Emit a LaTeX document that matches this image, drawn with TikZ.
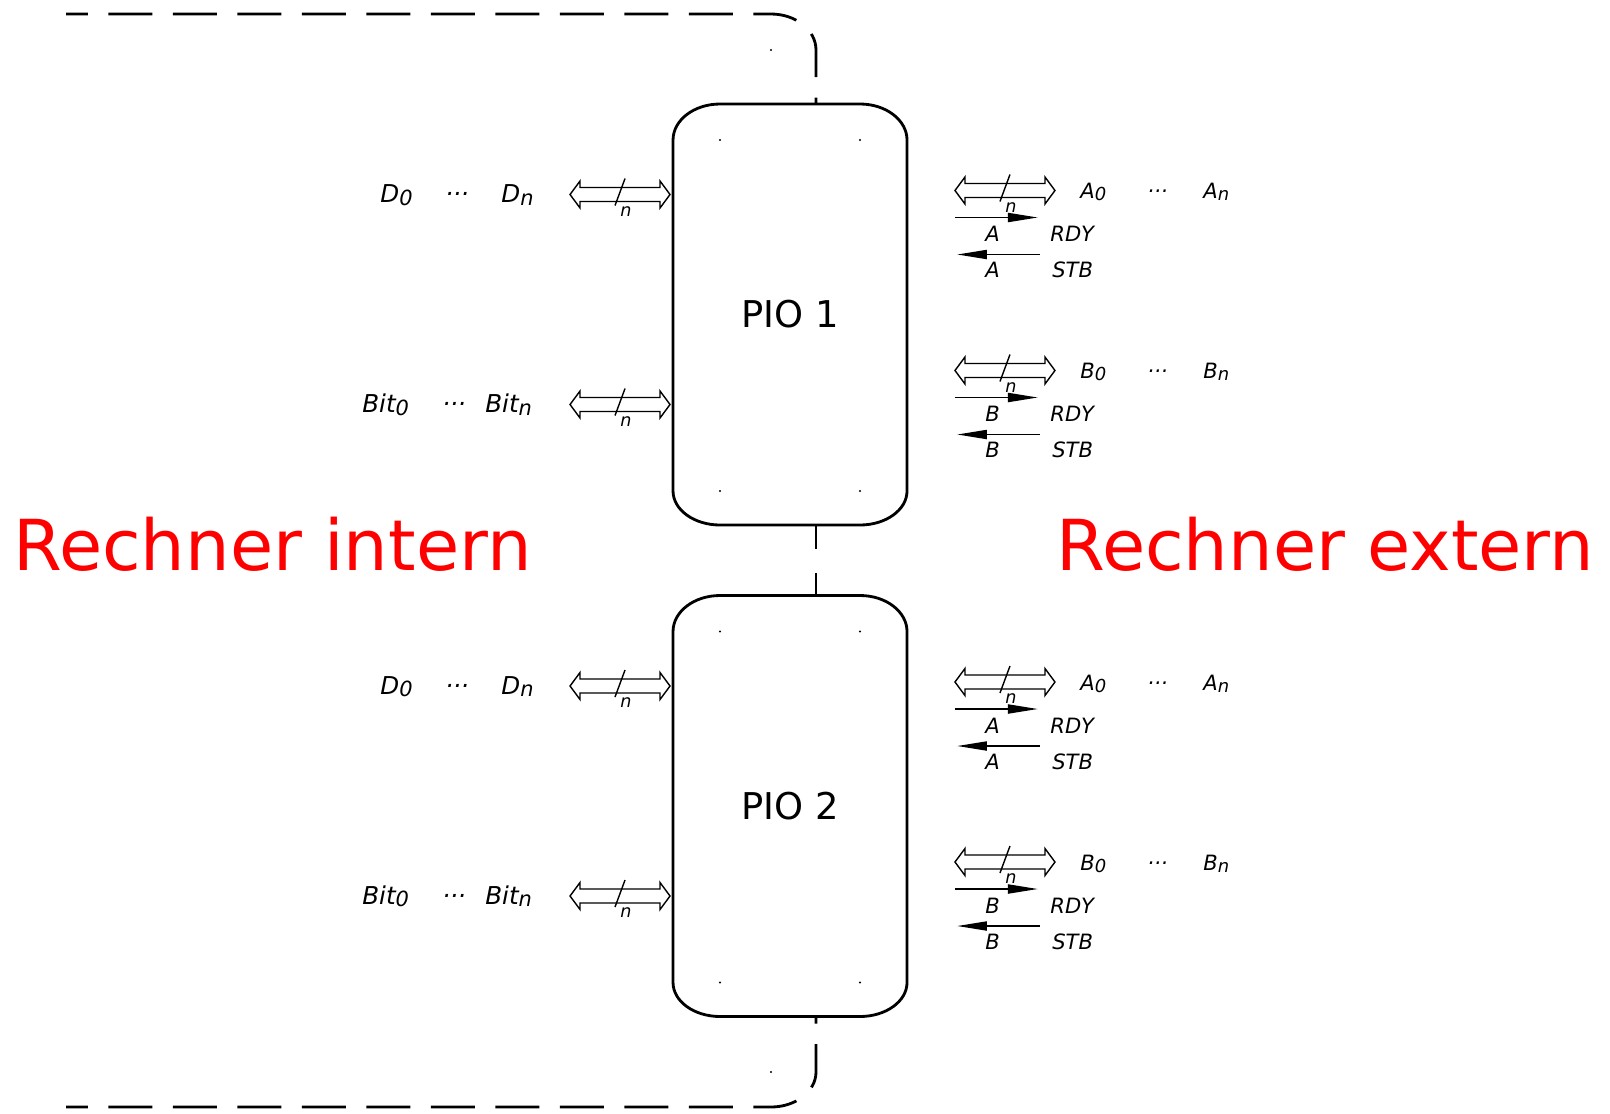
\documentclass[tikz,border=0pt]{standalone}
\usepackage{fontspec}
\setmainfont{DejaVu Sans}
\usepackage{graphicx}
\usetikzlibrary{arrows.meta,calc}

\newcommand{\sub}[1]{\raisebox{-0.2ex}{\scalebox{0.85}{#1}}}

\tikzset{
  frame/.style={line width=1.6pt, dash pattern=on 0.88cm off 0.41cm, dash phase=0.44cm},
  boxline/.style={line width=1.6pt},
  busline/.style={line width=0.8pt},
  sig/.style={line width=1.1pt},
  pio/.style={minimum width=4.68cm, minimum height=8.42cm, inner sep=0pt, outer sep=0pt,
    font=\fontsize{21}{25}\selectfont},
  lbl/.style={inner sep=0pt, anchor=base west, font=\itshape\fontsize{14}{16}\selectfont},
  rlbl/.style={inner sep=0pt, anchor=base west, font=\itshape\fontsize{12}{14}\selectfont},
  big/.style={inner sep=0pt, anchor=base west, text=red, font=\fontsize{40}{48}\selectfont},
  bus/.pic={
    \draw[busline] (0,0) -- (10,-13.5) -- (10,-7) -- (90,-7) -- (90,-13.5) -- (100,0)
      -- (90,13.5) -- (90,7) -- (10,7) -- (10,13.5) -- cycle;
    \draw[busline] (45,11) -- (55,-16);
    \node[inner sep=0pt, font=\itshape\fontsize{10}{12}\selectfont] (-n) at (56,17) {n};
  }
}

\begin{document}
\begin{tikzpicture}[x=0.02cm, y=-0.02cm, >={Triangle[length=0.6cm, width=0.18cm]}]
	\useasboundingbox (0,0) rectangle (1610,1113);
	\node[pio] (pio1) at (790,314.5) {PIO 1};
	\node[pio] (pio2) at (790,806) {PIO 2};
	% outer frame
	\draw[frame] (66,14) -- (771,14) arc[start angle=270, end angle=360, x radius=45, y radius=36]
		-- ([xshift=0.52cm]pio1.north);
	\draw[frame, dash pattern=on 0.48cm off 0.48cm, dash phase=0pt]
		([xshift=0.52cm]pio1.south) -- ([xshift=0.52cm]pio2.north);
	\draw[frame] (66,1107) -- (771,1107) arc[start angle=90, end angle=0, x radius=45, y radius=35]
		-- ([xshift=0.52cm]pio2.south);
	\fill (771,50) circle[radius=0.6pt] (771,1072) circle[radius=0.6pt];
	\node[big] (intern) at (13,570) {Rechner intern};
	\node[big] (extern) at (1056,570) {Rechner extern};
	\foreach \b in {1,2}{
		\draw[boxline] ($(pio\b.west)+(0,-174.5)$) arc[start angle=180, end angle=270, x radius=47, y radius=36]
			-- ++(140,0) arc[start angle=270, end angle=360, x radius=47, y radius=36]
			-- ++(0,351) arc[start angle=0, end angle=90, x radius=47, y radius=34]
			-- ++(-140,0) arc[start angle=90, end angle=180, x radius=47, y radius=34] -- cycle;
		\foreach \dx/\dy in {-70/-174.5, 70/-174.5, -70/176.5, 70/176.5}
			\fill ($(pio\b)+(\dx,\dy)$) circle[radius=0.6pt];
		% internal side
		\pic (dbus\b) at ($(pio\b.west)+(-103,-120)$) {bus};
		\pic (bbus\b) at ($(pio\b.west)+(-103,90)$) {bus};
		\node[lbl] (d0\b) at ($(pio\b)+(-410,-112)$) {D\sub{0}};
		\node[lbl] (dd\b) at ($(pio\b)+(-345,-112)$) {···};
		\node[lbl] (dn\b) at ($(pio\b)+(-289,-112)$) {D\sub{n}};
		\node[lbl] (b0\b) at ($(pio\b)+(-428,98)$) {Bit\sub{0}};
		\node[lbl] (bd\b) at ($(pio\b)+(-348,98)$) {···};
		\node[lbl] (bn\b) at ($(pio\b)+(-305,98)$) {Bit\sub{n}};
		% external side, ports A and B
		\foreach \p/\dy in {A/-124, B/56}{
			\pic (pbus\p\b) at ($(pio\b.east)+(48,\dy)$) {bus};
			\node[rlbl] (p0\p\b) at ($(pio\b)+(290,\dy+8)$) {\p\sub{0}};
			\node[rlbl] (pd\p\b) at ($(pio\b)+(357,\dy+8)$) {···};
			\node[rlbl] (pn\p\b) at ($(pio\b)+(413,\dy+8)$) {\p\sub{n}};
			\coordinate (rdyS\p\b) at ($(pio\b.east)+(48,\dy+27)$);
			\coordinate (rdyE\p\b) at ($(pio\b.east)+(131,\dy+27)$);
			\coordinate (stbS\p\b) at ($(pio\b.east)+(50,\dy+64)$);
			\coordinate (stbE\p\b) at ($(pio\b.east)+(133,\dy+64)$);
			\draw[sig, ->] (rdyS\p\b) -- (rdyE\p\b);
			\draw[sig, <-] (stbS\p\b) -- (stbE\p\b);
			\node[rlbl] (rp\p\b) at ($(pio\b)+(195,\dy+51)$) {\p};
			\node[rlbl] (rdy\p\b) at ($(pio\b)+(260,\dy+51)$) {RDY};
			\node[rlbl] (sp\p\b) at ($(pio\b)+(195,\dy+87)$) {\p};
			\node[rlbl] (stb\p\b) at ($(pio\b)+(262,\dy+87)$) {STB};
		}
	}
\end{tikzpicture}
\end{document}
